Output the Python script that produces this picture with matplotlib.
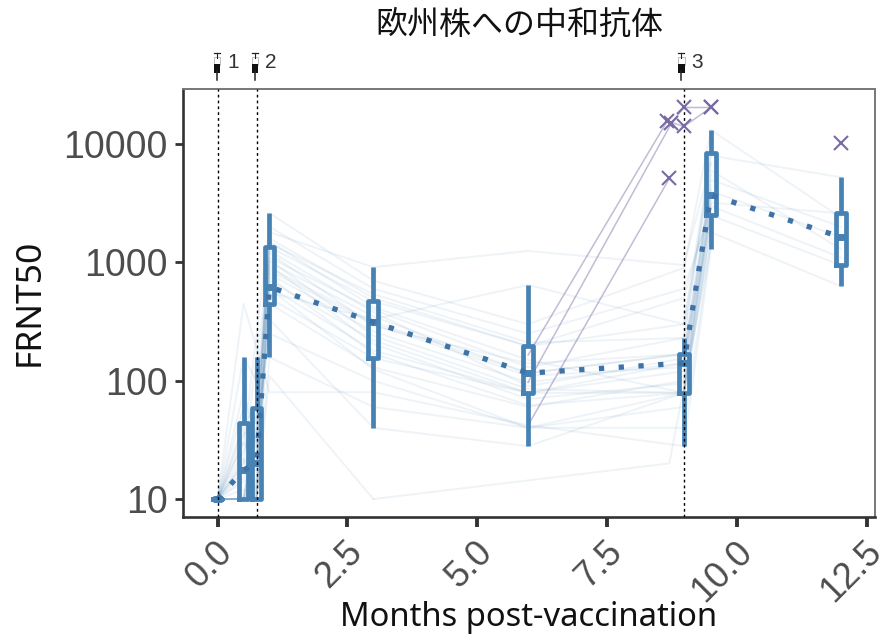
#!/usr/bin/env python3
"""FRNT50 titres against the European strain, by months post-vaccination."""

import numpy as np
import matplotlib
matplotlib.use("Agg")
import matplotlib.pyplot as plt
import matplotlib.ticker as ticker
from matplotlib.lines import Line2D
from matplotlib.patches import Rectangle
from matplotlib.transforms import IdentityTransform, ScaledTranslation

n = np.nan

months = [0, 0.5, 0.75, 1, 3, 5.98, 8.98, 9.5, 12]

# box statistics per visit
whisker_low = [10, 10, 10, 158, 40, 28, 28, 1300, 630]
box_low = [10, 10, 10, 445, 155, 79, 79, 2500, 950]
box_mid = [10, 17.6, 20, 620, 313, 116, 141, 3720, 1640]
box_high = [10, 44, 59, 1350, 470, 196, 168, 8400, 2600]
whisker_high = [10, 158, 158, 2610, 912, 645, 230, 13200, 5250]

# individual subjects, one value per visit
s01 = [10, n, 10, 110, 10, n, n, n, n]
s02 = [10, 450, n, 80, 80, 42, 28, 1300, n]
s03 = [10, 60, 10, 158, 60, 40, 40, 1500, n]
s04 = [10, 10, 40, 250, 100, 40, 79, 1800, 630]
s05 = [10, 20, 30, 330, 40, 28, 79, 2000, n]
s06 = [10, 10, 10, 450, 130, 60, 100, 2500, 950]
s07 = [10, 30, 20, 500, 155, 79, 120, 2500, n]
s08 = [10, 10, 60, 620, 180, 79, 79, 3000, 1100]
s09 = [10, 17, 20, 700, 220, 79, 141, 3700, n]
s10 = [10, 10, 10, 800, 260, 97, 141, 4000, 1640]
s11 = [10, 44, 59, 900, 313, 116, 168, 4500, n]
s12 = [10, 158, 100, 1000, 350, 116, 168, 5000, 2000]
s13 = [10, 20, 158, 1100, 400, 130, 230, 8000, 5250]
s14 = [10, 10, 40, 1350, 470, 196, 300, 8400, n]
s15 = [10, 80, 30, 1600, 500, 196, 500, 3200, 2600]
s16 = [10, 30, n, 2000, 600, 250, 600, 2800, n]
s17 = [10, 10, 15, 2610, 700, 300, 900, 13200, 2400]
s18 = [10, 25, 50, 1800, 912, 1250, 950, 7000, n]
s19 = [10, 12, 10, 560, 330, 645, 300, 6000, 1300]
s20 = [10, 40, 10, 1200, 290, 140, 168, 4200, n]
s21 = [10, 15, 25, 1500, 420, 150, 79, 2700, n]
s22 = [10, 10, 20, 1050, 240, 85, 79, 3400, n]
s23 = [10, 22, 12, 750, 170, 62, 79, 3900, n]
s24 = [10, 10, 35, 1250, 380, 90, 155, 2600, n]
s25 = [10, 14, 18, 600, 125, 40, 60, 2200, n]
s26 = [10, 18, 28, 950, 205, 70, 95, 5500, n]
s27 = [10, 10, 14, 850, 300, 110, 130, 3100, n]
s28 = [10, 35, 45, 1450, 540, 210, 230, 6800, n]
subjects = [s01, s02, s03, s04, s05, s06, s07, s08, s09, s10,
            s11, s12, s13, s14, s15, s16, s17, s18, s19, s20,
            s21, s22, s23, s24, s25, s26, s27, s28]

# subject that only reappears at the early third-dose visit
late_months = [3, 8.7, 9.5]
late_values = [10, 20, 1400]

# subjects above the upper range (purple crosses)
purple_a_months = [5.98, 8.66, 8.98, 9.5]
purple_a_values = [165, 15700, 14100, 20400]
purple_b_months = [5.98, 8.74, 8.98, 9.5]
purple_b_values = [97, 15000, 20400, 20400]
purple_c_months = [5.98, 8.7]
purple_c_values = [42, 5130]
lone_month = [12]
lone_value = [10200]

dose_months = [0, 0.75, 8.98]
icon_months = [-0.01, 0.72, 8.93]
dose_labels = ["1", "2", "3"]

x_ticks = [0.0, 2.5, 5.0, 7.5, 10.0, 12.5]
y_ticks = [10, 100, 1000, 10000]

BLUE = "#4682b4"
PURPLE = "#7a6aa3"
LATIN = ["Liberation Sans", "DejaVu Sans"]
LABEL = ["Noto Sans", "DejaVu Sans"]

fig = plt.figure(figsize=(8.82, 6.35), dpi=100)
ax = fig.add_axes([182.5 / 882, 1 - 517 / 635, (875 - 182.5) / 882, (517 - 89) / 635])


def draw_syringe(month, label):
    # icon above the panel, in pixels from the top of the figure
    cx = ax.transData.transform((month, 10))[0]
    tr = IdentityTransform()
    H = 635

    def seg(x0, x1, y0, y1, lw):
        fig.add_artist(Line2D([x0, x1], [H - y0, H - y1], color="#222222", lw=lw, transform=tr))

    seg(cx - 3, cx + 3, 52.5, 52.5, 0.9)
    seg(cx, cx, 52.5, 58, 0.8)
    seg(cx, cx, 71, 80, 1.1)
    fig.add_artist(Rectangle((cx - 3, H - 65), 6.4, 8, fc="white", ec="#b5b5b5", lw=0.6, transform=tr))
    fig.add_artist(Rectangle((cx - 3, H - 72.5), 6.4, 8.5, fc="#111111", ec="none", transform=tr))
    fig.text(cx + 10, H - 62.5, label, fontsize=15, color="#333333", family=LATIN,
             ha="left", va="center", transform=tr)


for values in subjects:
    y = np.array(values, dtype=float)
    keep = ~np.isnan(y)
    ax.plot(np.array(months)[keep], y[keep], color=BLUE, alpha=0.09, lw=1.4, zorder=1)
ax.plot(late_months, late_values, color=BLUE, alpha=0.09, lw=1.4, zorder=1)

for xs, ys in ((purple_a_months, purple_a_values), (purple_b_months, purple_b_values),
               (purple_c_months, purple_c_values)):
    ax.plot(xs, ys, color=PURPLE, alpha=0.45, lw=1.1, zorder=2)
    ax.plot(xs[1:], ys[1:], ls="none", marker="x", ms=10, mew=1.5, color=PURPLE, zorder=6)
ax.plot(lone_month, lone_value, ls="none", marker="x", ms=10, mew=1.5, color=PURPLE, zorder=6)

stats = [
    {"whislo": wl, "q1": q1, "med": md, "q3": q3, "whishi": wh, "fliers": []}
    for wl, q1, md, q3, wh in zip(whisker_low, box_low, box_mid, box_high, whisker_high)
]
box_line = {"color": BLUE, "lw": 3.4, "solid_joinstyle": "round"}
ax.bxp(stats, positions=months, widths=0.19, showcaps=False, showfliers=False,
       manage_ticks=False, boxprops=box_line,
       medianprops={"color": BLUE, "lw": 5.0, "solid_capstyle": "butt"},
       whiskerprops={"color": BLUE, "lw": 3.4, "solid_capstyle": "butt"}, zorder=3)

# dotted line joining the medians
ax.plot(months, box_mid, color="#3f72a6", lw=3.8, dashes=(1.0, 2.75), dash_capstyle="butt",
        zorder=4)

for m in dose_months:
    ax.axvline(m, color="black", lw=1.0, dashes=(2, 2.2), zorder=5)

ax.set_yscale("log")
ax.set_xlim(-0.675, 12.66)
ax.set_ylim(7.05, 10 ** 4.466)
ax.set_xticks(x_ticks)
ax.set_xticklabels([f"{t:.1f}" for t in x_ticks])
ax.yaxis.set_major_locator(ticker.FixedLocator(y_ticks))
ax.yaxis.set_major_formatter(ticker.FormatStrFormatter("%d"))
ax.yaxis.set_minor_locator(ticker.NullLocator())

ax.tick_params(axis="x", length=7.5, width=2.8, color="#333333", pad=5)
ax.tick_params(axis="y", length=5.5, width=2.0, color="#333333", pad=5)
shift = ScaledTranslation(-2.5 / 100, 0, fig.dpi_scale_trans)
for lab in ax.get_xticklabels():
    lab.set(rotation=45, ha="right", va="top", rotation_mode="anchor", fontsize=26,
            color="#4d4d4d", family=LATIN)
    lab.set_transform(lab.get_transform() + shift)
for lab in ax.get_yticklabels():
    lab.set(fontsize=27, color="#4d4d4d", family=LATIN)

for side in ("left", "bottom"):
    ax.spines[side].set(color="#333333", lw=1.9)
for side in ("top", "right"):
    ax.spines[side].set(color="#777777", lw=1.4)

for m, lab in zip(icon_months, dose_labels):
    draw_syringe(m, lab)

fig.text(519 / 882, 1 - 25 / 635, "欧州株への中和抗体", fontsize=23, color="#111111",
         family=["Noto Sans CJK JP", "DejaVu Sans"], ha="center", va="center")
fig.text(528.5 / 882, 1 - 617 / 635, "Months post-vaccination", fontsize=23.6, color="#111111",
         family=LABEL, ha="center", va="center")
fig.text(30 / 882, 1 - 302 / 635, "FRNT50", fontsize=25.5, rotation=90, color="#111111",
         family=LABEL, ha="center", va="center")

fig.savefig("out.png", dpi=100)
